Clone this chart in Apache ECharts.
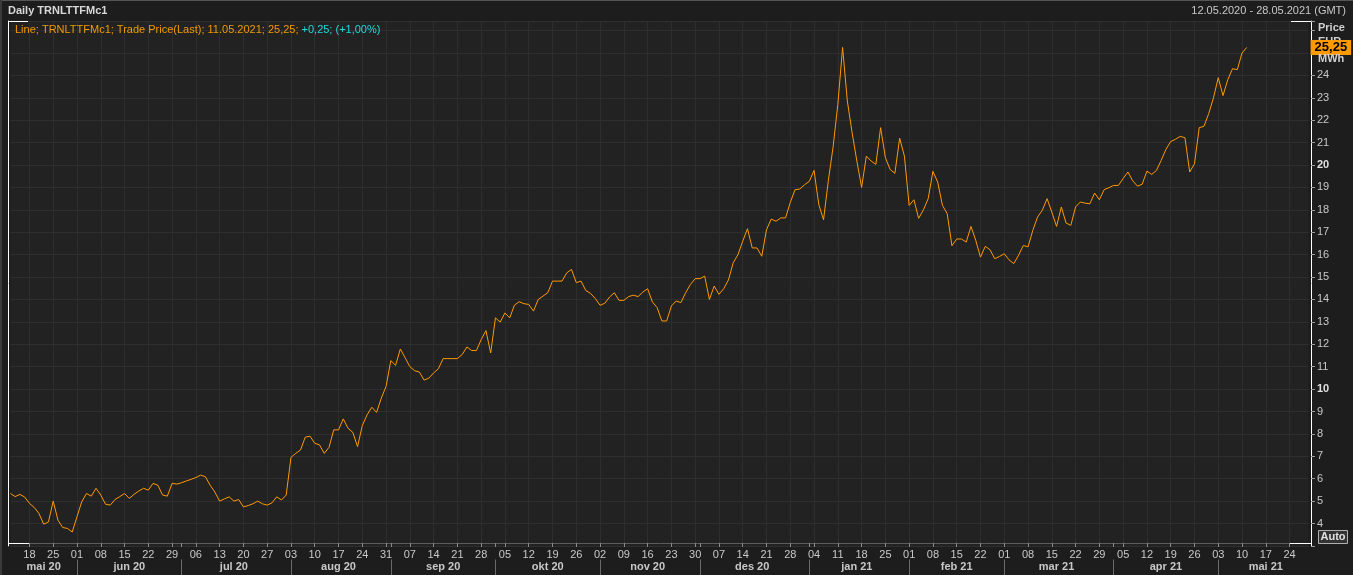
<!DOCTYPE html>
<html>
<head>
<meta charset="utf-8">
<script src="https://cdn.jsdelivr.net/npm/echarts@6/dist/echarts.min.js"></script>
<style>
html,body{margin:0;padding:0;background:#1d1d1d;overflow:hidden;}
#c{width:1353px;height:575px;}
</style>
</head>
<body>
<div id="c"></div>
<script>
// ---------- data ----------
const chartTitle = 'Daily TRNLTTFMc1';
const rangeText = '12.05.2020 - 28.05.2021 (GMT)';
const legendMain = 'Line; TRNLTTFMc1; Trade Price(Last); 11.05.2021; 25,25; ';
const legendChange = '+0,25; (+1,00%)';
const firstDay = '2020-05-12';
const lastDay = '2021-05-28';
const monthNames = ['jan','feb','mar','apr','mai','jun','jul','aug','sep','okt','nov','des'];
const yTickLabels = [4,5,6,7,8,9,10,11,12,13,14,15,16,17,18,19,20,21,22,23,24];
const boldTicks = [10,20];
const lastPriceLabel = '25,25';
const lastPrice = 25.25;
// daily trade prices (EUR/MWh), trading days from 12.05.2020 to 11.05.2021
const prices = [
5.34,5.20,5.30,5.18,4.90,4.72,4.45,3.97,4.07,5.00,
4.15,3.82,3.78,3.62,4.30,4.97,5.34,5.22,5.57,5.27,
4.86,4.82,5.07,5.20,5.34,5.12,5.30,5.45,5.57,5.49,
5.79,5.71,5.27,5.22,5.79,5.76,5.82,5.90,5.97,6.05,
6.16,6.09,5.71,5.40,5.00,5.10,5.19,5.00,5.07,4.74,
4.80,4.88,5.00,4.88,4.82,4.92,5.19,5.05,5.27,6.95,
7.13,7.28,7.85,7.90,7.58,7.51,7.13,7.40,8.18,8.18,
8.67,8.25,8.07,7.43,8.37,8.85,9.19,8.96,9.60,10.12,
11.27,11.06,11.79,11.40,11.00,10.82,10.76,10.40,10.49,10.72,
10.91,11.36,11.36,11.36,11.36,11.54,11.88,11.72,11.72,12.21,
12.61,11.61,13.18,12.99,13.40,13.18,13.75,13.90,13.81,13.78,
13.48,14.00,14.15,14.30,14.82,14.82,14.82,15.19,15.34,14.75,
14.82,14.40,14.27,14.04,13.74,13.83,14.11,14.30,13.96,13.96,
14.13,14.19,14.13,14.33,14.48,13.89,13.64,13.04,13.04,13.71,
13.93,13.86,14.30,14.67,14.93,14.93,15.04,14.00,14.60,14.23,
14.48,14.87,15.64,16.00,16.60,17.16,16.30,16.30,15.93,17.11,
17.59,17.49,17.64,17.64,18.33,18.90,18.93,19.12,19.27,19.76,
18.23,17.56,19.30,20.80,22.70,25.25,22.86,21.45,20.18,19.00,
20.40,20.18,20.03,21.67,20.33,19.80,19.63,21.20,20.40,18.20,
18.45,17.62,18.00,18.50,19.72,19.24,18.20,17.83,16.40,16.70,
16.70,16.56,17.26,16.64,15.89,16.37,16.22,15.82,15.92,16.04,
15.77,15.60,15.97,16.41,16.35,17.08,17.68,17.98,18.50,17.90,
17.26,18.13,17.41,17.31,18.13,18.35,18.30,18.27,18.75,18.45,
18.90,18.99,19.09,19.09,19.40,19.69,19.30,19.06,19.14,19.73,
19.58,19.76,20.21,20.70,21.05,21.15,21.28,21.22,19.69,20.06,
21.67,21.73,22.30,23.00,23.90,23.10,23.81,24.30,24.26,25.00,
25.25
];

// ---------- calendar of weekdays ----------
const days = [];
(function(){
  const d = new Date(firstDay + 'T00:00:00Z');
  const end = new Date(lastDay + 'T00:00:00Z');
  while (d <= end) {
    const wd = d.getUTCDay();
    if (wd !== 0 && wd !== 6) days.push(d.toISOString().slice(0,10));
    d.setUTCDate(d.getUTCDate() + 1);
  }
})();
const dow = s => new Date(s + 'T00:00:00Z').getUTCDay();
const monthKey = s => s.slice(0,7);
const isMonday = i => dow(days[i]) === 1;
const isMonthStart = i => i > 0 && monthKey(days[i]) !== monthKey(days[i-1]);
// middle index of each month
const monthMid = new Set();
(function(){
  let s = 0;
  for (let i = 1; i <= days.length; i++) {
    if (i === days.length || monthKey(days[i]) !== monthKey(days[s])) {
      monthMid.add(Math.round((s + i - 1) / 2));
      s = i;
    }
  }
})();
const seriesData = days.map((d, i) => i < prices.length ? prices[i] : null);

// ---------- colours ----------
const BG = '#1d1d1d', PLOT = '#222222', GRID = '#2e2e2e', TXT = '#c8c8c8', ORANGE = '#ff9900';

const chart = echarts.init(document.getElementById('c'), null, {renderer: 'canvas'});
const F = 'Liberation Sans, Arial, sans-serif';

chart.setOption({
  backgroundColor: BG,
  animation: false,
  textStyle: {fontFamily: F},
  grid: {left: 10.4, right: 44.4, top: 21, bottom: 29.1, show: true, backgroundColor: PLOT, borderWidth: 0},
  xAxis: [{
    type: 'category', data: days, boundaryGap: false, position: 'bottom', offset: -2.9,
    axisLine: {show: true, lineStyle: {color: '#5c5c5c', width: 1}},
    axisTick: {show: true, length: 4, lineStyle: {color: '#8a8a8a'}, interval: (i) => isMonday(i) || isMonthStart(i)},
    axisLabel: {show: true, color: TXT, fontSize: 11, fontFamily: F, margin: 6,
      interval: (i) => isMonday(i), formatter: (v) => v.slice(8,10)},
    splitLine: {show: true, interval: (i) => isMonday(i), lineStyle: {color: GRID, width: 1}}
  }, {
    type: 'category', data: days, boundaryGap: false, position: 'bottom', offset: 13.6,
    axisLine: {show: false},
    axisTick: {show: true, length: 16, lineStyle: {color: '#6a6a6a'}, interval: (i) => isMonthStart(i)},
    axisLabel: {show: true, color: TXT, fontSize: 11, fontWeight: 'bold', fontFamily: F, margin: 2,
      interval: (i) => monthMid.has(i),
      formatter: (v) => monthNames[+v.slice(5,7) - 1] + ' ' + v.slice(2,4)},
    splitLine: {show: false}
  }],
  yAxis: [{
    type: 'value', position: 'right', min: 3, max: 26.43, interval: 1, offset: 2.4,
    axisLine: {show: true, lineStyle: {color: '#ffffff', width: 1}},
    axisTick: {show: true, length: 4, lineStyle: {color: '#9a9a9a'}},
    axisLabel: {show: true, color: TXT, fontSize: 11, fontFamily: F, margin: 6,
      formatter: (v) => yTickLabels.includes(v) ? (boldTicks.includes(v) ? '{b|' + v + '}' : String(v)) : '',
      rich: {b: {fontWeight: 'bold', color: '#e0e0e0', fontSize: 11, fontFamily: F}}},
    splitLine: {show: true, lineStyle: {color: GRID, width: 1}}
  }, {
    type: 'value', position: 'left', min: 3, max: 26.43, interval: 1, offset: 2.4,
    axisLine: {show: true, lineStyle: {color: '#ffffff', width: 1}},
    axisTick: {show: false}, axisLabel: {show: false}, splitLine: {show: false}
  }],
  series: [{
    type: 'line', data: seriesData, xAxisIndex: 0, yAxisIndex: 0,
    showSymbol: false, symbol: 'none', connectNulls: false,
    lineStyle: {color: ORANGE, width: 1},
    z: 3,
    markLine: {
      silent: true, symbol: 'none', animation: false,
      lineStyle: {color: 'rgba(0,0,0,0)', width: 0, type: 'solid'},
      data: [{yAxis: lastPrice}],
      label: {show: true, position: 'end', distance: 2, formatter: lastPriceLabel,
        backgroundColor: ORANGE, color: '#000', fontWeight: 'bold', fontSize: 13, fontFamily: F,
        padding: [1, 4, 0, 4], lineHeight: 14, opacity: 1}
    }
  }],
  graphic: [
    {type: 'rect', z: 100, left: 0, top: 0, shape: {width: 1353, height: 1}, style: {fill: '#555'}, silent: true},
    {type: 'rect', z: 100, left: 0, top: 0, shape: {width: 2, height: 575}, style: {fill: '#3a3a3a'}, silent: true},
    {type: 'text', z: 100, left: 8, top: 5, style: {text: chartTitle, fill: '#d8d8d8', font: 'bold 11px ' + F}},
    {type: 'text', z: 100, right: 7, top: 5, style: {text: rangeText, fill: TXT, font: '11px ' + F}},
    {type: 'text', z: 100, left: 15, top: 24, style: {
      text: '{o|' + legendMain + '}{c|' + legendChange + '}',
      rich: {o: {fill: '#f29a00', font: '11px ' + F}, c: {fill: '#20d8d8', font: '11px ' + F}}}},
    // frame corners
    {type: 'line', z: 100, shape: {x1: 8, y1: 21.5, x2: 28, y2: 21.5}, style: {stroke: '#fff', lineWidth: 1}},
    {type: 'line', z: 100, shape: {x1: 8, y1: 543.5, x2: 29, y2: 543.5}, style: {stroke: '#fff', lineWidth: 1}},
    {type: 'line', z: 100, shape: {x1: 1291, y1: 21.5, x2: 1311, y2: 21.5}, style: {stroke: '#fff', lineWidth: 1}},
    {type: 'line', z: 100, shape: {x1: 1290, y1: 543.5, x2: 1311, y2: 543.5}, style: {stroke: '#fff', lineWidth: 1}},
    {type: 'text', z: 100, left: 1318, top: 22, style: {text: 'Price', fill: '#d0d0d0', font: 'bold 11px ' + F}},
    {type: 'text', z: 0, left: 1318, top: 36, style: {text: 'EUR', fill: '#d0d0d0', font: 'bold 11px ' + F}},
    {type: 'text', z: 100, left: 1318, top: 53, style: {text: 'MWh', fill: '#d0d0d0', font: 'bold 11px ' + F}},
    {type: 'group', z: 100, left: 1318, top: 530, children: [
      {type: 'rect', z: 100, shape: {x: 0, y: 0, width: 29, height: 13}, style: {fill: '#333', stroke: '#b0b0b0', lineWidth: 1}},
      {type: 'text', z: 101, x: 2, y: 1, style: {text: 'Auto', fill: '#e0e0e0', font: 'bold 11px ' + F}}
    ]}
  ]
});
</script>
</body>
</html>
